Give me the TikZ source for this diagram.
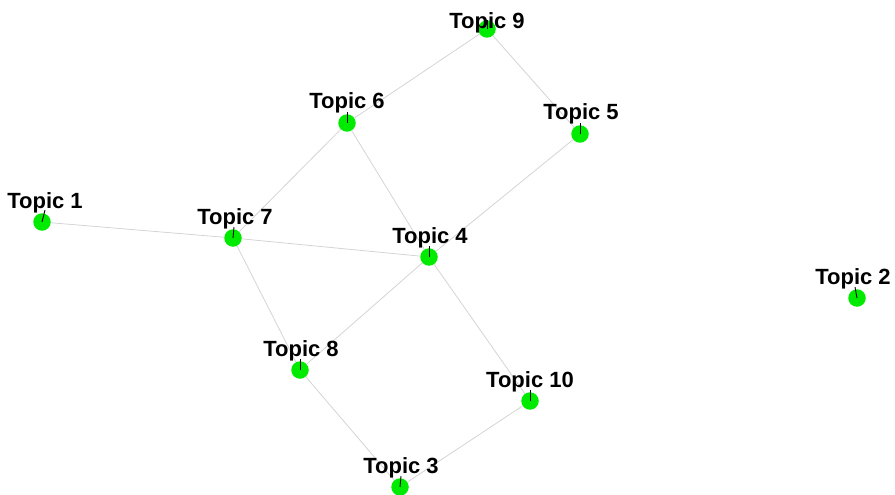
\documentclass[tikz,border=0pt]{standalone}
\usepackage{fontspec}
\setmainfont{Liberation Sans}
\usetikzlibrary{backgrounds}
\definecolor{topicgreen}{RGB}{0,235,0}
\definecolor{linkgray}{RGB}{212,212,212}
\begin{document}
\begin{tikzpicture}[x=1pt,y=-1pt,
  vert/.style={circle,fill=topicgreen,draw=none,minimum size=17.5pt,inner sep=0pt},
  lbl/.style={anchor=base,font=\bfseries\fontsize{22}{25}\selectfont,inner sep=0pt},
  link/.style={draw=linkgray,line width=0.8pt},
  tickline/.style={draw=black,line width=0.9pt}]
\useasboundingbox (0,0) rectangle (895,495);

% topic vertices
\node[vert] (n1)  at (42,222)  {};
\node[vert] (n2)  at (857,298) {};
\node[vert] (n3)  at (400,487) {};
\node[vert] (n4)  at (429,257) {};
\node[vert] (n5)  at (580,134) {};
\node[vert] (n6)  at (347,123) {};
\node[vert] (n7)  at (233,238) {};
\node[vert] (n8)  at (300,370) {};
\node[vert] (n9)  at (487,29)  {};
\node[vert] (n10) at (530,401) {};

% labels
\node[lbl] (l1)  at (45,208)  {Topic 1};
\node[lbl] (l2)  at (853,284) {Topic 2};
\node[lbl] (l3)  at (401,473) {Topic 3};
\node[lbl] (l4)  at (430,243) {Topic 4};
\node[lbl] (l5)  at (581,120) {Topic 5};
\node[lbl] (l6)  at (347,109) {Topic 6};
\node[lbl] (l7)  at (235,224) {Topic 7};
\node[lbl] (l8)  at (301,356) {Topic 8};
\node[lbl] (l9)  at (487,29)  {Topic 9};
\node[lbl] (l10) at (530,387) {Topic 10};

% short ticks from each vertex towards its label
\coordinate (t1)  at (45,210);
\coordinate (t2)  at (855,287);
\coordinate (t3)  at (401,476);
\coordinate (t4)  at (429,246);
\coordinate (t5)  at (580,123);
\coordinate (t6)  at (347,112);
\coordinate (t7)  at (234,227);
\coordinate (t8)  at (300,359);
\coordinate (t9)  at (487,20);
\coordinate (t10) at (530,390);
\foreach \i in {1,...,10} {\draw[tickline] (n\i.center) -- (t\i);}

% links between topics
\begin{scope}[on background layer]
  \draw[link] (n9) -- (n6);
  \draw[link] (n9) -- (n5);
  \draw[link] (n6) -- (n7);
  \draw[link] (n6) -- (n4);
  \draw[link] (n5) -- (n4);
  \draw[link] (n1) -- (n7);
  \draw[link] (n7) -- (n4);
  \draw[link] (n7) -- (n8);
  \draw[link] (n4) -- (n8);
  \draw[link] (n4) -- (n10);
  \draw[link] (n8) -- (n3);
  \draw[link] (n10) -- (n3);
\end{scope}
\end{tikzpicture}
\end{document}
